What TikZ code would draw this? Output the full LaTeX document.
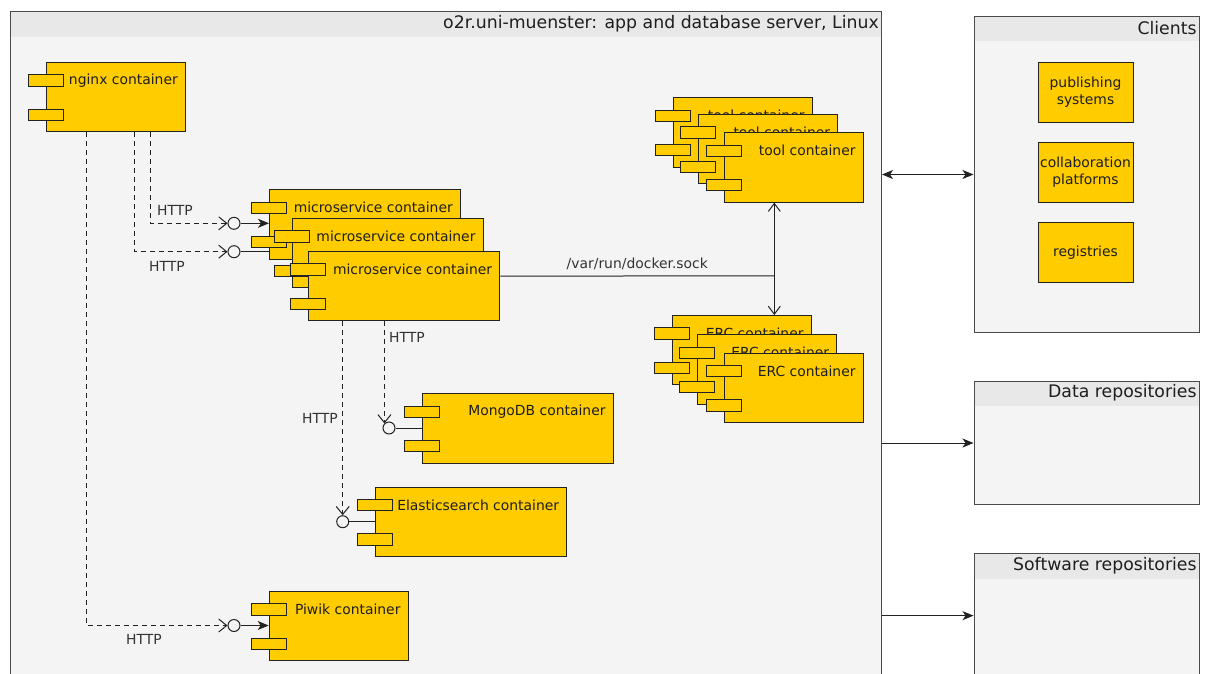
\documentclass[tikz,border=0pt]{standalone}
\usepackage{fontspec}
\setmainfont{DejaVu Sans}
\usetikzlibrary{arrows.meta}

\definecolor{compyellow}{HTML}{FFCC00}
\definecolor{bodygray}{HTML}{F4F4F4}
\definecolor{headgray}{HTML}{E8E8E8}
\definecolor{framegray}{HTML}{4A4A4A}
\definecolor{linedark}{HTML}{222222}
\definecolor{textdark}{HTML}{1E1E1E}
\definecolor{labelgray}{HTML}{333333}

\newcommand{\component}[4]{%
	\node[compbody, minimum width=#3] (#1) at (#2) {};
	\node[compport] at ([yshift=-18.5pt]#1.north west) {};
	\node[compport] at ([yshift=17.5pt]#1.south west) {};
	\node[comptext, anchor=east] (#1-lbl) at ([xshift=-8pt,yshift=-18.5pt]#1.north east) {#4};
}

\begin{document}
\begin{tikzpicture}[x=1pt,y=-1pt,
	umlframe/.style={draw=framegray,line width=1.3pt,fill=bodygray,anchor=north west,inner sep=0pt,
		path picture={\fill[headgray] (path picture bounding box.north west) rectangle ([yshift=-25pt]path picture bounding box.north east);}},
	frametitle/.style={inner sep=0pt,font=\fontsize{17.3}{20}\selectfont,text=textdark,anchor=east},
	compbody/.style={draw=linedark,line width=1pt,fill=compyellow,minimum height=69.3pt,anchor=north west,inner sep=0pt},
	compport/.style={draw=linedark,line width=1pt,fill=compyellow,minimum width=35pt,minimum height=11.5pt,inner sep=0pt},
	comptext/.style={inner sep=0pt,font=\fontsize{13.9}{16}\selectfont,text=textdark},
	clientbox/.style={draw=linedark,line width=1pt,fill=compyellow,minimum width=95pt,minimum height=60pt,align=center,inner sep=0pt,font=\fontsize{13.9}{17}\selectfont,text=textdark},
	iface/.style={circle,draw=linedark,line width=1pt,fill=bodygray,minimum size=12pt,inner sep=0pt},
	httplink/.style={draw=linedark,line width=1pt,dash pattern=on 5pt off 4pt,-{Straight Barb[length=8pt,width=13pt]}},
	wire/.style={draw=linedark,line width=1pt},
	wirearrow/.style={wire,-{Stealth[length=11pt,width=9pt,inset=3pt]}},
	lbl/.style={comptext,text=labelgray}
	]
	\useasboundingbox (0,0) rectangle (1205,673);
	\clip (0,0) rectangle (1205,673);

	\node[umlframe,minimum width=870.7pt,minimum height=679pt] (server) at (10,11) {};
	\node[frametitle] at ([xshift=-3pt,yshift=-12.5pt]server.north east) {o2r.uni-muenster: app and database server, Linux};
	\node[umlframe,minimum width=225.5pt,minimum height=316.3pt] (clients) at (973.5,15.7) {};
	\node[frametitle] at ([xshift=-3.5pt,yshift=-12.5pt]clients.north east) {Clients};
	\node[umlframe,minimum width=225.5pt,minimum height=123.3pt] (datarepo) at (973.5,380.7) {};
	\node[frametitle] at ([xshift=-3.5pt,yshift=-12.5pt]datarepo.north east) {Data repositories};
	\node[umlframe,minimum width=225.5pt,minimum height=124pt] (softrepo) at (973.5,553) {};
	\node[frametitle] at ([xshift=-3.5pt,yshift=-12.5pt]softrepo.north east) {Software repositories};

	\node[clientbox] (publishing) at (1085.5,92) {publishing\\systems};
	\node[clientbox] (collab) at (1085.5,172.3) {collaboration\\platforms};
	\node[clientbox] (registries) at (1085.5,252.5) {registries};

	\component{nginx}{46,62}{139pt}{nginx container}
	\component{micro1}{269,189.3}{191pt}{microservice container}
	\component{micro2}{291.7,218}{191pt}{microservice container}
	\component{micro3}{308.3,251}{191pt}{microservice container}
	\component{tool1}{672.7,97.3}{139pt}{tool container}
	\component{tool2}{698.3,114}{139pt}{tool container}
	\component{tool3}{723.7,132.3}{139pt}{tool container}
	\component{erc1}{671.7,315}{139pt}{ERC container}
	\component{erc2}{697.3,334.3}{139pt}{ERC container}
	\component{erc3}{723.7,352.7}{139pt}{ERC container}
	\component{mongo}{421.7,393.3}{191pt}{MongoDB container}
	\component{elastic}{375.3,486.7}{191pt}{Elasticsearch container}
	\component{piwik}{268.7,591}{139pt}{Piwik container}

	\node[iface] (ifmicroA) at (234,223.3) {};
	\node[iface] (ifmicroB) at (234,251.7) {};
	\node[iface] (ifpiwik) at (234,625.5) {};
	\node[iface] (ifmongo) at (389,428) {};
	\node[iface] (ifelastic) at (342.7,521.7) {};

	\draw[httplink] ([xshift=104pt]nginx.south west) |- (ifmicroA.west);
	\draw[wirearrow] (ifmicroA.east) -- (ifmicroA.east -| micro1.west);
	\draw[httplink] ([xshift=88pt]nginx.south west) |- (ifmicroB.west);
	\draw[wire] (ifmicroB.east) -- (ifmicroB.east -| micro1.west);
	\draw[httplink] ([xshift=40pt]nginx.south west) |- (ifpiwik.west);
	\draw[wirearrow] (ifpiwik.east) -- (ifpiwik.east -| piwik.west);
	\draw[httplink] (ifmongo.north west |- micro3.south) -- (ifmongo.north west);
	\draw[wire] (ifmongo.east) -- (ifmongo.east -| mongo.west);
	\draw[httplink] (ifelastic.north |- micro3.south) -- (ifelastic.north);
	\draw[wire] (ifelastic.east) -- (ifelastic.east -| elastic.west);

	\node[lbl] at (175,210) {HTTP};
	\node[lbl] at (167,266) {HTTP};
	\node[lbl] at (144,639) {HTTP};
	\node[lbl] at (407,337) {HTTP};
	\node[lbl] at (320,418) {HTTP};

	\coordinate (sock) at (774.3,275.8);
	\draw[wire] ([yshift=10pt]micro3.east) -- (sock) node[lbl,midway,above=6pt] {/var/run/docker.sock};
	\draw[wire,{Straight Barb[length=8pt,width=12pt]}-{Straight Barb[length=8pt,width=12pt]}] (tool3.south -| sock) -- (erc1.north -| sock);

	\draw[wire,{Stealth[length=11pt,width=9pt,inset=3pt]}-{Stealth[length=11pt,width=9pt,inset=3pt]}] (server.east |- clients.west) -- (clients.west);
	\draw[wirearrow] (server.east |- datarepo.west) -- (datarepo.west);
	\draw[wirearrow] (server.east |- softrepo.west) -- (softrepo.west);
\end{tikzpicture}
\end{document}
